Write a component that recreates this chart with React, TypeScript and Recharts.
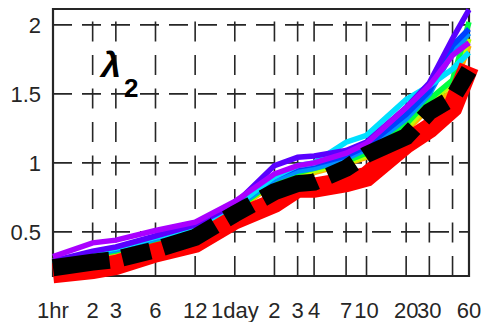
import { LineChart, Line, XAxis, YAxis, CartesianGrid, ReferenceArea } from 'recharts';

// sampling times in hours (1hr ... 60 days)
const TIMES = [1, 2, 3, 6, 12, 24, 48, 72, 96, 168, 240, 480, 720, 1080, 1440];
const TICK_LABELS = ['1hr', '2', '3', '6', '12', '1day', '2', '3', '4', '7', '10', '20', '30', '', '60'];
const Y_TICKS = [0.5, 1, 1.5, 2];

// individual curves
const ORANGE = [0.26, 0.32, 0.35, 0.43, 0.51, 0.65, 0.85, 0.91, 0.93, 0.99, 1.04, 1.23, 1.4, 1.52, 1.85];
const LIME = [0.29, 0.34, 0.37, 0.44, 0.52, 0.66, 0.86, 0.92, 0.94, 1.0, 1.05, 1.25, 1.43, 1.58, 1.9];
const GREEN = [0.27, 0.33, 0.36, 0.44, 0.52, 0.66, 0.87, 0.93, 0.96, 1.01, 1.07, 1.28, 1.46, 1.6, 2.02];
const AZURE = [0.27, 0.34, 0.37, 0.45, 0.53, 0.67, 0.88, 0.94, 0.96, 1.03, 1.1, 1.32, 1.5, 1.8, 1.94];
const BLUE = [0.28, 0.35, 0.38, 0.46, 0.54, 0.68, 0.9, 0.97, 0.99, 1.05, 1.12, 1.35, 1.52, 1.85, 1.97];
const CYAN = [0.28, 0.35, 0.38, 0.46, 0.53, 0.68, 0.9, 0.98, 1.0, 1.15, 1.2, 1.46, 1.56, 1.68, 1.8];
const VIOLET = [0.29, 0.36, 0.39, 0.47, 0.55, 0.7, 0.98, 1.04, 1.05, 1.09, 1.15, 1.4, 1.58, 1.9, 2.11];
const PURPLE = [0.32, 0.42, 0.44, 0.51, 0.57, 0.72, 0.92, 0.98, 1.0, 1.07, 1.14, 1.4, 1.56, 1.78, 1.87];
const RED = [0.2, 0.23, 0.26, 0.35, 0.42, 0.59, 0.71, 0.82, 0.82, 0.86, 0.9, 1.14, 1.25, 1.4, 1.7];
// mean curve (black dashed)
const MEAN = [0.24, 0.28, 0.3, 0.37, 0.46, 0.63, 0.79, 0.85, 0.86, 0.96, 1.06, 1.19, 1.37, 1.47, 1.67];

const SERIES = [
  { key: 'orange', values: ORANGE, color: '#ffb000' },
  { key: 'lime', values: LIME, color: '#b8ff00' },
  { key: 'green', values: GREEN, color: '#00ff40' },
  { key: 'azure', values: AZURE, color: '#0090ff' },
  { key: 'blue', values: BLUE, color: '#0040ff' },
  { key: 'cyan', values: CYAN, color: '#00e0ff' },
  { key: 'violet', values: VIOLET, color: '#5a00ff' },
  { key: 'purple', values: PURPLE, color: '#aa00ff' },
];

const data = TIMES.map((t, i) => {
  const row: Record<string, number> = { t, red: RED[i], mean: MEAN[i] };
  SERIES.forEach((s) => {
    row[s.key] = s.values[i];
  });
  return row;
});

const labelFor = (v: number) => TICK_LABELS[TIMES.indexOf(v)] ?? '';

const FONT = '"Liberation Sans", Arial, sans-serif';
const INK = '#262626';

export default function App() {
  return (
    <div style={{ position: 'absolute', left: 0, top: 0, width: 487, height: 322, background: '#fff' }}>
      <LineChart width={487} height={322} data={data} margin={{ top: 9, right: 18, bottom: 0, left: 0 }}>
        <CartesianGrid horizontal vertical={false} stroke={INK} strokeWidth={1.6} strokeDasharray="19 10" />
        <CartesianGrid
          horizontal={false}
          vertical
          stroke={INK}
          strokeWidth={1.6}
          strokeDasharray="20 13.5"
          strokeDashoffset={21}
        />
        <XAxis
          dataKey="t"
          type="number"
          scale="log"
          domain={[1, 1440]}
          ticks={TIMES}
          interval={0}
          tickFormatter={labelFor}
          height={46}
          axisLine={false}
          tickLine={false}
          tickSize={6}
          tickMargin={20}
          tick={{ fill: INK, fontSize: 22, fontFamily: FONT }}
        />
        <YAxis
          type="number"
          domain={[0.18, 2.115]}
          ticks={Y_TICKS}
          interval={0}
          width={53}
          axisLine={false}
          tickLine={false}
          tickSize={6}
          tickMargin={6}
          tick={{ fill: INK, fontSize: 22, fontFamily: FONT }}
        />
        <ReferenceArea x1={1} x2={1440} y1={0.18} y2={2.115} fill="none" stroke={INK} strokeWidth={2.2} />
        {SERIES.map((s) => (
          <Line
            key={s.key}
            dataKey={s.key}
            type="linear"
            stroke={s.color}
            strokeWidth={5.5}
            dot={false}
            activeDot={false}
            isAnimationActive={false}
          />
        ))}
        <Line dataKey="red" type="linear" stroke="#ff0000" strokeWidth={20} dot={false} activeDot={false} isAnimationActive={false} />
        <Line
          dataKey="mean"
          type="linear"
          stroke="#000000"
          strokeWidth={17}
          strokeDasharray="57 13 29 13"
          dot={false}
          activeDot={false}
          isAnimationActive={false}
        />
      </LineChart>
      <svg width={487} height={322} style={{ position: 'absolute', left: 0, top: 0, pointerEvents: 'none' }}>
        <text x={101} y={77} fontSize={36} fontStyle="italic" fontWeight="bold" fontFamily={FONT} fill="#000">
          λ
        </text>
        <text x={124} y={97} fontSize={26} fontWeight="bold" fontFamily={FONT} fill="#000">
          2
        </text>
      </svg>
    </div>
  );
}
